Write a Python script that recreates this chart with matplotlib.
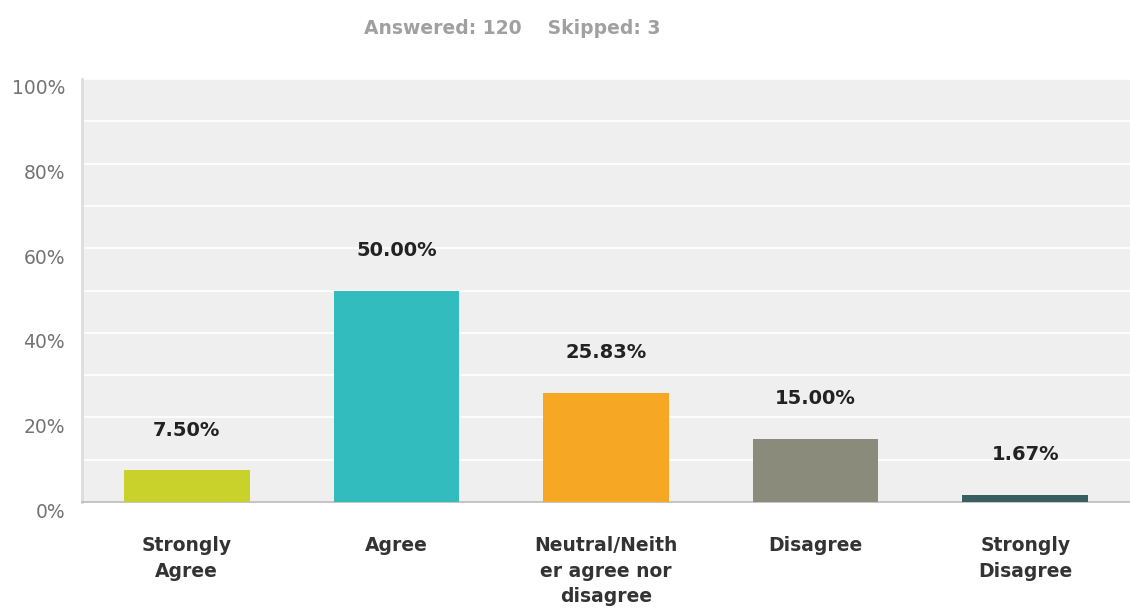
import matplotlib
matplotlib.use("Agg")
import matplotlib.pyplot as plt
from matplotlib.transforms import blended_transform_factory, offset_copy

plt.rcParams['font.family'] = ['DejaVu Sans']

categories = ["Strongly\nAgree", "Agree", "Neutral/Neith\ner agree nor\ndisagree",
              "Disagree", "Strongly\nDisagree"]
percent = [7.50, 50.00, 25.83, 15.00, 1.67]
colors = ["#c8d22b", "#33bcbd", "#f6a723", "#8b8b7c", "#385e5f"]
yticks = [0, 20, 40, 60, 80, 100]
answered = 120
skipped = 3

fig = plt.figure(figsize=(11.3, 6.1), dpi=100)
ax = fig.add_axes([82 / 1130, 108 / 610, 1 - 82 / 1130, 423 / 610])
ax.set_facecolor("#efefef")

x = list(range(len(categories)))
ax.bar(x, percent, width=0.6, color=colors, zorder=3)

# value labels above each bar
for xi, v in zip(x, percent):
    t = offset_copy(ax.transData, fig=fig, x=0, y=40, units='dots')
    ax.text(xi, v, f"{v:.2f}%", transform=t, ha='center', va='center',
            fontsize=14, fontweight='bold', color='#222222')

ax.set_xlim(-0.5, 4.5)
ax.set_ylim(0, 100)

# white gridlines every 10%
ax.set_yticks(range(0, 101, 10))
ax.grid(axis='y', color='white', linewidth=1.2, zorder=1)
ax.set_yticklabels([])
ax.tick_params(axis='both', length=0)

# y labels sit a little under their gridline
trans = blended_transform_factory(fig.transFigure, ax.transData)
for yv in yticks:
    t = offset_copy(trans, fig=fig, x=0, y=-10, units='dots')
    ax.text(65 / 1130, yv, f"{yv}%", transform=t, ha='right', va='center',
            fontsize=13.5, color='#737373')

ax.set_xticks(x)
ax.set_xticklabels([])
for xi, lab in zip(x, categories):
    t = offset_copy(blended_transform_factory(ax.transData, ax.transAxes),
                    fig=fig, x=0, y=-34, units='dots')
    ax.text(xi, 0, lab, transform=t, ha='center', va='top', fontsize=13.5,
            fontweight='bold', color='#333333', linespacing=1.45)

for s in ['top', 'right']:
    ax.spines[s].set_visible(False)
ax.spines['left'].set_color('#dddddd')
ax.spines['left'].set_linewidth(2)
ax.spines['bottom'].set_color('#bbbbbb')
ax.spines['bottom'].set_linewidth(1.2)

fig.text(364 / 1130, 1 - 28 / 610, f"Answered: {answered}    Skipped: {skipped}",
         ha='left', va='center', fontsize=13.5, fontweight='bold', color='#a0a0a0')

fig.savefig("out.png", dpi=100)
